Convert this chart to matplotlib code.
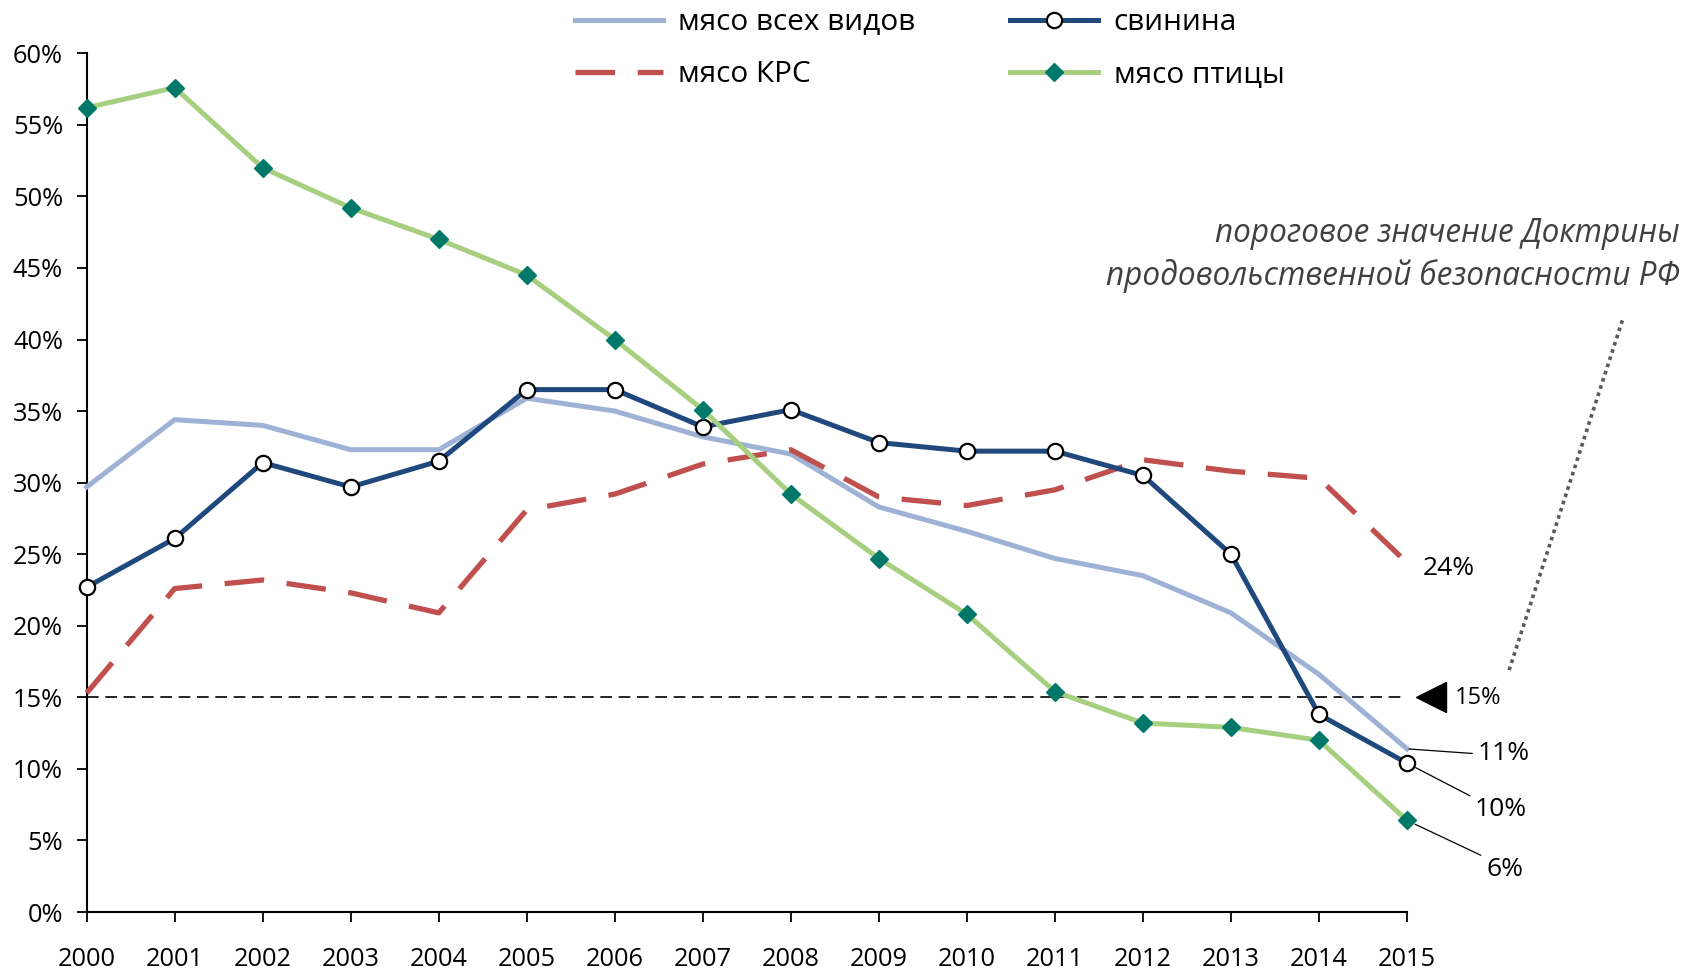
import matplotlib
matplotlib.use("Agg")
import matplotlib.pyplot as plt
from matplotlib.ticker import FuncFormatter

plt.rcParams['font.family'] = ['Open Sans', 'DejaVu Sans']

# ---- data ----
years = [2000, 2001, 2002, 2003, 2004, 2005, 2006, 2007,
         2008, 2009, 2010, 2011, 2012, 2013, 2014, 2015]
all_meat = [29.7, 34.4, 34.0, 32.3, 32.3, 35.9, 35.0, 33.2,
            32.0, 28.3, 26.6, 24.7, 23.5, 20.9, 16.6, 11.4]
beef = [15.3, 22.6, 23.2, 22.3, 20.9, 28.1, 29.2, 31.3,
        32.3, 29.0, 28.4, 29.5, 31.6, 30.8, 30.3, 24.4]
pork = [22.7, 26.1, 31.4, 29.7, 31.5, 36.5, 36.5, 33.9,
        35.1, 32.8, 32.2, 32.2, 30.5, 25.0, 13.8, 10.4]
poultry = [56.2, 57.6, 52.0, 49.2, 47.0, 44.5, 40.0, 35.1,
           29.2, 24.7, 20.8, 15.4, 13.2, 12.9, 12.0, 6.4]
threshold = 15
series_names = ['мясо всех видов', 'мясо КРС', 'свинина', 'мясо птицы']
y_ticks = [0, 5, 10, 15, 20, 25, 30, 35, 40, 45, 50, 55, 60]
note_lines = ['пороговое значение Доктрины', 'продовольственной безопасности РФ']

# ---- figure ----
W, H = 1686, 971
fig = plt.figure(figsize=(W / 100, H / 100), dpi=100)
ax = fig.add_axes([86.7 / W, 1 - 912 / H, (1407 - 86.7) / W, (912 - 53.3) / H])

c_all = '#9DB2D4'
c_beef = '#C0504D'
c_pork = '#1F497D'
c_poul = '#A6D07F'
c_diam = '#00796B'

ax.hlines(threshold, years[0], years[-1], colors='black', lw=1.2,
          linestyles=(0, (7, 4)), zorder=2)

l_all, = ax.plot(years, all_meat, color=c_all, lw=3.6, zorder=3, clip_on=False,
                 solid_joinstyle='miter')
l_beef, = ax.plot(years, beef, color=c_beef, lw=3.8, dashes=(7.5, 4.3), zorder=4,
                  clip_on=False, dash_capstyle='butt')
l_pork, = ax.plot(years, pork, color=c_pork, lw=3.6, marker='o', ms=11,
                  mfc='white', mec='black', mew=1.6, zorder=5, clip_on=False)
l_poul, = ax.plot(years, poultry, color=c_poul, lw=3.6, marker='D', ms=9,
                  mfc=c_diam, mec=c_diam, zorder=6, clip_on=False)

ax.set_xlim(years[0], years[-1])
ax.set_ylim(y_ticks[0], y_ticks[-1])
ax.set_xticks(years)
ax.set_yticks(y_ticks)
ax.yaxis.set_major_formatter(FuncFormatter(lambda v, p: f"{v:.0f}%"))
for s in ['top', 'right']:
    ax.spines[s].set_visible(False)
for s in ['left', 'bottom']:
    ax.spines[s].set_linewidth(1.5)
ax.tick_params(axis='both', direction='out', length=7, width=1.3, labelsize=18.3)
ax.tick_params(axis='x', pad=18)
ax.tick_params(axis='y', pad=10)

# ---- legend ----
fig.legend([l_all, l_beef, l_pork, l_poul], series_names, ncol=2,
           loc='upper left', bbox_to_anchor=(575 / W, 1 - 8 / H),
           frameon=False, fontsize=21.4, handlelength=2.95, handletextpad=0.52,
           columnspacing=3.2, labelspacing=0.78, borderpad=0, borderaxespad=0)

# ---- end labels ----
txt = dict(fontsize=19, ha='left', va='center', textcoords='offset points',
           annotation_clip=False)
ax.annotate(f"{beef[-1]:.0f}%", xy=(years[-1], beef[-1]), xytext=(11.5, -4.3), **txt)
ax.annotate(f"{all_meat[-1]:.0f}%", xy=(years[-1], all_meat[-1]), xytext=(51, -3.6),
            arrowprops=dict(arrowstyle='-', color='black', lw=0.9, shrinkA=2,
                            shrinkB=1.5, relpos=(0, 0.5)), **txt)
ax.annotate(f"{pork[-1]:.0f}%", xy=(years[-1], pork[-1]), xytext=(49, -33.5),
            arrowprops=dict(arrowstyle='-', color='black', lw=0.9, shrinkA=2,
                            shrinkB=7, relpos=(0, 0.95)), **txt)
ax.annotate(f"{poultry[-1]:.0f}%", xy=(years[-1], poultry[-1]), xytext=(57, -35),
            arrowprops=dict(arrowstyle='-', color='black', lw=0.9, shrinkA=2,
                            shrinkB=6.5, relpos=(0, 0.95)), **txt)

# threshold marker and label
ax.plot([years[-1] + 0.27], [threshold], marker='<', ms=22, color='black',
        clip_on=False, zorder=7)
ax.annotate(f"{threshold}%", xy=(years[-1], threshold), xytext=(34.5, -0.7),
            fontsize=17, ha='left', va='center', textcoords='offset points',
            annotation_clip=False)

# dotted pointer
ax.plot([years[-1] + 1.16, years[-1] + 2.45], [16.9, 41.4], color='#595959',
        lw=2.6, ls=(0, (1, 1.1)), dash_capstyle='butt', clip_on=False)

# note text
fig.text(1680 / W, 1 - 234 / H, note_lines[0], ha='right', va='center',
         style='italic', color='#404040', fontsize=22.7)
fig.text(1680 / W, 1 - 276 / H, note_lines[1], ha='right', va='center',
         style='italic', color='#404040', fontsize=22.7)

fig.savefig('out.png', dpi=100)
